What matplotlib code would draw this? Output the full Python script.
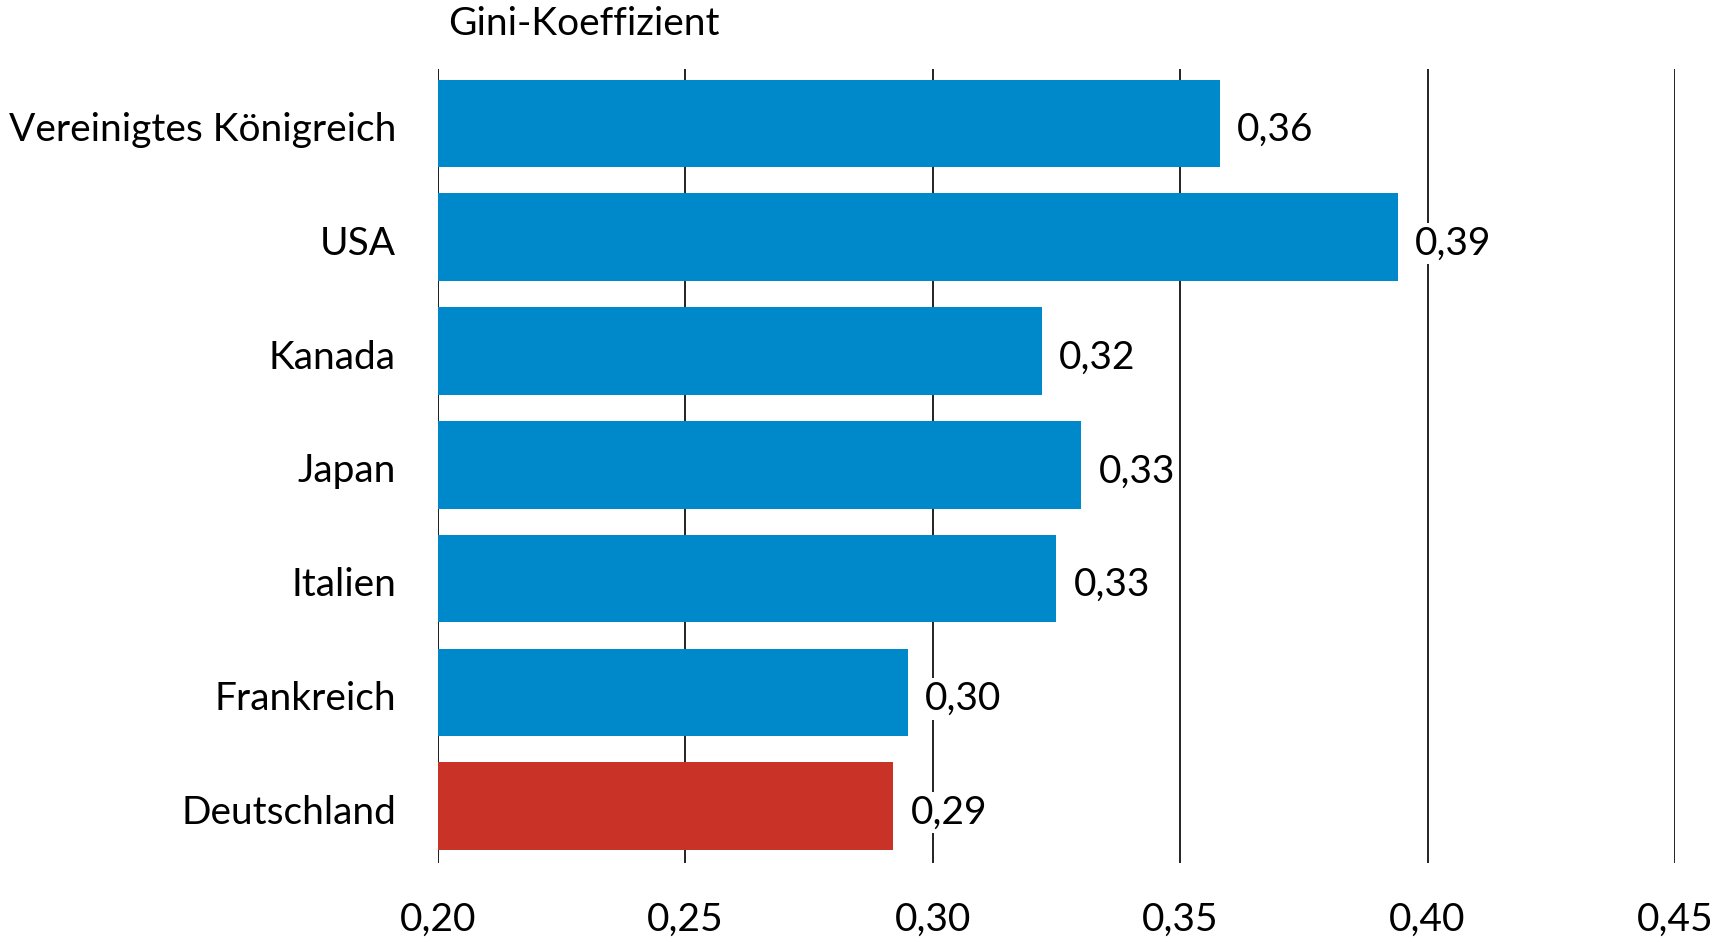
import matplotlib
matplotlib.use("Agg")
import matplotlib.pyplot as plt
import matplotlib.transforms as mtransforms

countries = ["Vereinigtes Königreich", "USA", "Kanada", "Japan", "Italien", "Frankreich", "Deutschland"]
values = [0.358, 0.394, 0.322, 0.330, 0.325, 0.295, 0.292]
value_labels = ["0,36", "0,39", "0,32", "0,33", "0,33", "0,30", "0,29"]
xticks = [0.20, 0.25, 0.30, 0.35, 0.40, 0.45]
xtick_labels = ["0,20", "0,25", "0,30", "0,35", "0,40", "0,45"]
title = "Gini-Koeffizient"

blue = "#0089CA"
red = "#C93227"
plt.rcParams['font.family'] = ['Lato', 'DejaVu Sans']
fs = 28

fig = plt.figure(figsize=(17.35, 9.43), dpi=100)
ax = fig.add_axes([0.2524, 0.0848, 0.9654 - 0.2524, 0.927 - 0.0848])

n = len(countries)
ypos = [n - 1 - i for i in range(n)]
colors = [red if c == "Deutschland" else blue for c in countries]
ax.barh(ypos, [v - 0.20 for v in values], left=0.20, height=0.77, color=colors, zorder=2)

shift = mtransforms.ScaledTranslation(0, -6.5 / 100, fig.dpi_scale_trans)
for y, v, lab in zip(ypos, values, value_labels):
    ax.text(v + 0.0035, y, lab, va="center", ha="left", fontsize=fs, zorder=3,
            transform=ax.transData + shift,
            bbox=dict(facecolor="white", edgecolor="none", pad=2))

# category labels
label_trans = mtransforms.blended_transform_factory(ax.transAxes, ax.transData) + \
    mtransforms.ScaledTranslation(-42 / 100, -6.5 / 100, fig.dpi_scale_trans)
for y, c in zip(ypos, countries):
    ax.text(0, y, c, ha="right", va="center", fontsize=fs, transform=label_trans,
            clip_on=False)

ax.set_xlim(0.20, 0.45)
ax.set_ylim(-0.5, n - 0.52)
ax.set_xticks(xticks)
ax.set_xticklabels(xtick_labels, fontsize=fs)
ax.set_yticks([])
ax.tick_params(axis="both", length=0)
ax.tick_params(axis="x", pad=28)
ax.grid(axis="x", color="#222222", linewidth=1.4, zorder=1)
ax.set_axisbelow(True)
for s in ax.spines.values():
    s.set_visible(False)
ax.axvline(0.20, color="#222222", linewidth=1.4, zorder=1)

fig.text(448 / 1735, 1 - 24 / 943, title, fontsize=fs, ha="left", va="center")

fig.savefig("out.png", dpi=100)
